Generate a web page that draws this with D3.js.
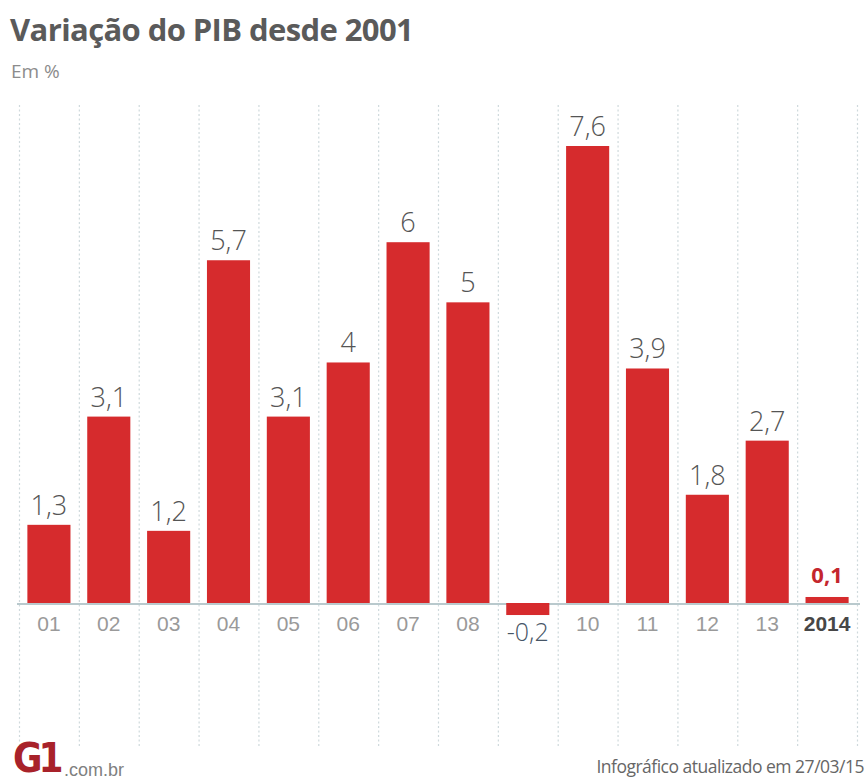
<!DOCTYPE html>
<html>
<head>
<meta charset="utf-8">
<script src="https://cdn.jsdelivr.net/npm/d3@7"></script>
<style>
  html, body { margin: 0; padding: 0; background: #fff; }
  svg { display: block; }
</style>
</head>
<body>
<svg id="chart" width="866" height="780"></svg>
<script>
// GDP growth per year, in %
const categories = ["01", "02", "03", "04", "05", "06", "07", "08", "09", "10", "11", "12", "13", "2014"];
const values = [1.3, 3.1, 1.2, 5.7, 3.1, 4, 6, 5, -0.2, 7.6, 3.9, 1.8, 2.7, 0.1];
const highlight = "2014";

const title = "Variação do PIB desde 2001";
const subtitle = "Em %";
const footerNote = "Infográfico atualizado em 27/03/15";

const fmt = v => String(v).replace(".", ",");

const svg = d3.select("#chart");

const x = d3.scaleBand()
  .domain(categories)
  .range([19, 857])
  .paddingInner(0.28)
  .paddingOuter(0.14);

const y = d3.scaleLinear()
  .domain([0, 7.6])
  .range([603, 146]);

const step = x.step();
const gridX0 = x(categories[0]) - step * x.paddingOuter();

// dotted vertical separators between years
const grid = svg.append("g");
d3.range(categories.length + 1).forEach(i => {
  grid.append("line")
    .attr("x1", gridX0 + i * step + 0.5).attr("x2", gridX0 + i * step + 0.5)
    .attr("y1", 105).attr("y2", 748)
    .attr("stroke", "#cfd9dc")
    .attr("stroke-width", 1.2)
    .attr("stroke-dasharray", "2,2.5");
});

// zero line
svg.append("line")
  .attr("x1", 17).attr("x2", 860)
  .attr("y1", y(0) + 1).attr("y2", y(0) + 1)
  .attr("stroke", "#b9c9cd")
  .attr("stroke-width", 2);

// bars
svg.append("g").selectAll("rect")
  .data(categories)
  .join("rect")
  .attr("x", d => x(d))
  .attr("width", x.bandwidth())
  .attr("y", (d, i) => y(Math.max(0, values[i])))
  .attr("height", (d, i) => Math.abs(y(values[i]) - y(0)))
  .attr("fill", "#d62b2d");

// value labels
svg.append("g").selectAll("text")
  .data(categories)
  .join("text")
  .attr("x", d => x(d) + x.bandwidth() / 2)
  .attr("y", (d, i) => values[i] >= 0 ? y(values[i]) - (d === highlight ? 14 : 10) : 641)
  .attr("text-anchor", "middle")
  .attr("font-family", "'Open Sans', sans-serif")
  .attr("font-weight", d => d === highlight ? 700 : 300)
  .attr("font-size", (d, i) => d === highlight ? 22 : (values[i] < 0 ? 25 : 27))
  .attr("fill", (d, i) => d === highlight ? "#c4262d" : (values[i] < 0 ? "#465566" : "#555"))
  .text((d, i) => fmt(values[i]));

// year labels (the negative year carries its value label instead)
svg.append("g").selectAll("text")
  .data(categories.filter((d, i) => values[i] >= 0))
  .join("text")
  .attr("x", d => x(d) + x.bandwidth() / 2)
  .attr("y", 631)
  .attr("text-anchor", "middle")
  .attr("font-family", "'Liberation Sans', Arial, sans-serif")
  .attr("font-weight", d => d === highlight ? 700 : 400)
  .attr("font-size", 21)
  .attr("fill", d => d === highlight ? "#474747" : "#9a9a9a")
  .text(d => d);

// title block
svg.append("text")
  .attr("x", 10).attr("y", 41)
  .attr("font-family", "'Open Sans', sans-serif")
  .attr("font-weight", 700)
  .attr("font-size", 31)
  .attr("letter-spacing", -0.6)
  .attr("fill", "#5a5a5a")
  .text(title);

svg.append("text")
  .attr("x", 11).attr("y", 78)
  .attr("font-family", "'Open Sans', sans-serif")
  .attr("font-size", 19)
  .attr("fill", "#8c8c8c")
  .text(subtitle);

// footer: logo and update note
const logo = svg.append("g");
logo.append("text")
  .attr("x", 0).attr("y", 0)
  .attr("font-family", "'DejaVu Sans', sans-serif")
  .attr("font-weight", 700)
  .attr("font-size", 36)
  .attr("letter-spacing", -4)
  .attr("fill", "#a8222a")
  .attr("transform", "translate(13,772) scale(1,1.12)")
  .text("G1");
logo.append("text")
  .attr("x", 64).attr("y", 776)
  .attr("font-family", "'Liberation Sans', Arial, sans-serif")
  .attr("font-size", 18)
  .attr("fill", "#808080")
  .text(".com.br");

svg.append("text")
  .attr("x", 864).attr("y", 773)
  .attr("text-anchor", "end")
  .attr("font-family", "'Open Sans', sans-serif")
  .attr("font-size", 17.5)
  .attr("letter-spacing", -0.5)
  .attr("fill", "#666")
  .text(footerNote);
</script>
</body>
</html>
